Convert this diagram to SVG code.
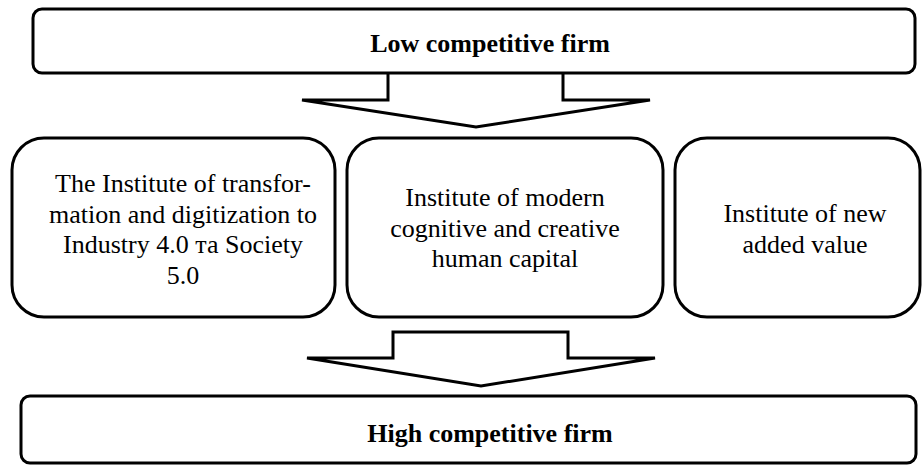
<svg xmlns="http://www.w3.org/2000/svg" width="923" height="465" viewBox="0 0 923 465">
<style>
.box{fill:#fff;stroke:#000;stroke-width:3}
.arrow{fill:#fff;stroke:#000;stroke-width:3;stroke-linejoin:miter}
text{font-family:"Liberation Serif","Times New Roman",serif;font-size:26px;fill:#000;text-anchor:middle}
.b{font-weight:bold}
</style>
<rect width="923" height="465" fill="#fff"/>
<g id="connectors">
<path class="arrow" d="M388,73 V100 H302 L476,127 L650,100 H563 V73"/>
<path class="arrow" d="M393,332 V358 H307 L481,386 L655,358 H568 V332 Z"/>
</g>
<g id="low">
<rect class="box" x="33" y="9" width="882" height="64" rx="9"/>
<text class="b" x="490" y="52">Low competitive firm</text>
</g>
<g id="inst1">
<rect class="box" x="12" y="138" width="323" height="179" rx="32"/>
<text x="183" y="192">The Institute of transfor-</text>
<text x="183" y="222.5">mation and digitization to</text>
<text x="183" y="253">Industry 4.0 та Society</text>
<text x="183" y="283.5">5.0</text>
</g>
<g id="inst2">
<rect class="box" x="347" y="138" width="316" height="179" rx="32"/>
<text x="505" y="206">Institute of modern</text>
<text x="505" y="236.5">cognitive and creative</text>
<text x="505" y="267">human capital</text>
</g>
<g id="inst3">
<rect class="box" x="675" y="138" width="245" height="179" rx="32"/>
<text x="805" y="222">Institute of new</text>
<text x="805" y="252.5">added value</text>
</g>
<g id="high">
<rect class="box" x="21" y="396" width="895" height="67" rx="9"/>
<text class="b" x="490" y="442">High competitive firm</text>
</g>
</svg>
